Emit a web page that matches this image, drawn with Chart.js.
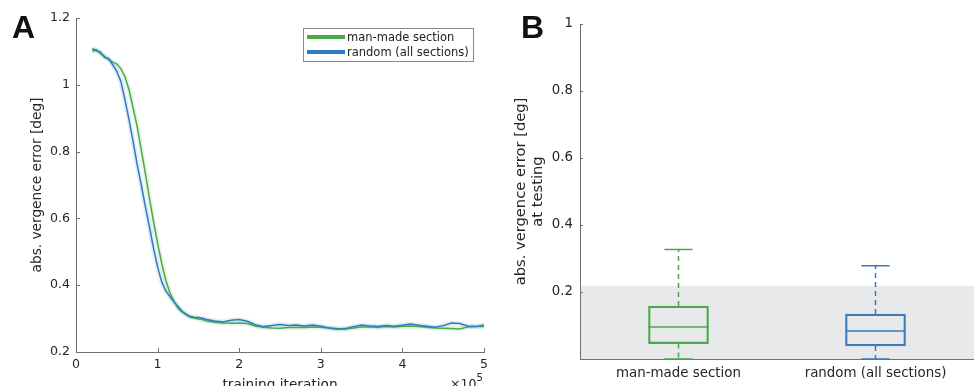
<!DOCTYPE html>
<html>
<head>
<meta charset="utf-8">
<script src="https://cdn.jsdelivr.net/npm/chart.js@4.4.1/dist/chart.umd.min.js"></script>
<style>
    html, body {
        margin: 0;
        padding: 0;
        width: 974px;
        height: 386px;
        overflow: hidden;
        background: #fff;
        font-family: "DejaVu Sans", sans-serif;
    }

    #wrap {
        position: relative;
        width: 974px;
        height: 386px;
        overflow: hidden;
    }

    #canvasA {
        position: absolute;
        left: 0;
        top: 0;
    }

    #canvasB {
        position: absolute;
        left: 490px;
        top: 0;
    }

    .panel-letter {
        position: absolute;
        font-family: "Liberation Sans", Arial, sans-serif;
        font-weight: bold;
        font-size: 32px;
        line-height: 1;
        color: #111;
    }

    .legend {
        position: absolute;
        left: 303px;
        top: 28px;
        width: 169px;
        height: 32px;
        border: 1px solid #8a8a8a;
        background: #fff;
        font-size: 11.5px;
        color: #222;
    }

    .legend-row {
        position: absolute;
        left: 3px;
        height: 15px;
        line-height: 15px;
        white-space: nowrap;
    }

    .legend-swatch {
        display: inline-block;
        width: 38px;
        height: 4px;
        vertical-align: middle;
        margin-right: 2px;
        position: relative;
        top: -1px;
    }

    .exponent {
        position: absolute;
        left: 450px;
        top: 374px;
        font-size: 12.5px;
        color: #262626;
        white-space: nowrap;
    }

    .exponent sup {
        font-size: 10px;
        position: relative;
        top: -2px;
    }
</style>
</head>
<body>
<div id="wrap">
    <canvas id="canvasA" width="500" height="400"></canvas>
    <canvas id="canvasB" width="484" height="400"></canvas>
    <div class="panel-letter" style="left: 12px; top: 11px;">A</div>
    <div class="panel-letter" style="left: 521px; top: 11px;">B</div>
    <div class="legend" id="legendA"></div>
    <div class="exponent">×10<sup>5</sup></div>
</div>
<script>
// panel A: training curves (x in units of 10^5 iterations)
const iterations = [
    0.20, 0.25, 0.30, 0.35, 0.40, 0.45, 0.50, 0.55, 0.60, 0.65,
    0.70, 0.75, 0.80, 0.85, 0.90, 0.95, 1.00, 1.05, 1.10, 1.15,
    1.20, 1.25, 1.30, 1.35, 1.40, 1.45, 1.50, 1.55, 1.60, 1.70,
    1.80, 1.90, 2.00, 2.10, 2.20, 2.30, 2.40, 2.50, 2.60, 2.70,
    2.80, 2.90, 3.00, 3.10, 3.20, 3.30, 3.40, 3.50, 3.60, 3.70,
    3.80, 3.90, 4.00, 4.10, 4.20, 4.30, 4.40, 4.50, 4.60, 4.70,
    4.80, 4.90, 5.00
];

const manMadeError = [
    1.100, 1.105, 1.093, 1.085, 1.075, 1.068, 1.062, 1.048, 1.024, 0.985,
    0.930, 0.875, 0.805, 0.735, 0.660, 0.590, 0.525, 0.466, 0.415, 0.378,
    0.352, 0.331, 0.320, 0.312, 0.305, 0.302, 0.299, 0.297, 0.293, 0.289,
    0.287, 0.286, 0.287, 0.285, 0.278, 0.274, 0.272, 0.271, 0.273, 0.274,
    0.273, 0.275, 0.274, 0.272, 0.270, 0.269, 0.272, 0.275, 0.275, 0.274,
    0.276, 0.275, 0.277, 0.278, 0.276, 0.274, 0.272, 0.271, 0.270, 0.269,
    0.275, 0.276, 0.276
];

const randomError = [
    1.108, 1.102, 1.098, 1.082, 1.078, 1.060, 1.040, 1.010, 0.955, 0.895,
    0.830, 0.760, 0.700, 0.635, 0.575, 0.510, 0.455, 0.410, 0.383, 0.366,
    0.350, 0.336, 0.322, 0.313, 0.306, 0.304, 0.303, 0.301, 0.297, 0.293,
    0.290, 0.295, 0.297, 0.292, 0.281, 0.276, 0.279, 0.282, 0.279, 0.281,
    0.278, 0.281, 0.277, 0.272, 0.268, 0.270, 0.276, 0.281, 0.278, 0.276,
    0.279, 0.277, 0.280, 0.284, 0.280, 0.277, 0.274, 0.279, 0.287, 0.285,
    0.278, 0.276, 0.281
];

const xTicksA = [0, 1, 2, 3, 4, 5];
const yTicksA = [0.2, 0.4, 0.6, 0.8, 1, 1.2];

// panel B: error at testing, box plot summary
const boxCategories = ["man-made section", "random (all sections)"];
const whiskerLow = [0.000, 0.000];
const quartile1 = [0.046, 0.039];
const medians = [0.095, 0.083];
const quartile3 = [0.158, 0.134];
const whiskerHigh = [0.327, 0.278];
const yTicksB = [0.2, 0.4, 0.6, 0.8, 1];
const bandTop = 0.218;

const GREEN = "#4aab45";
const BLUE = "#2c7bc4";
const BOX_COLORS = ["#4aa84a", "#3a7ab6"];
const AXIS_COLOR = "#6f6f6f";
const TEXT_COLOR = "#262626";

function toPoints(values) {

    return iterations.map((x, i) => ({ x, y: values[i] }));
}

function fixedTicks(values) {

    return (scale) => {
        scale.ticks = values.map((value) => ({ value }));
    };
}

const inwardTicks = {
    id: "inwardTicks",
    afterDatasetsDraw(chart, args, opts) {

        const { ctx, chartArea } = chart;

        ctx.save();
        ctx.strokeStyle = AXIS_COLOR;
        ctx.lineWidth = 1;

        (opts.axes || []).forEach((id) => {

            const scale = chart.scales[id];

            scale.ticks.forEach((tick) => {

                const p = Math.round(scale.getPixelForValue(tick.value)) + 0.5;

                ctx.beginPath();
                if (scale.isHorizontal()) {
                    ctx.moveTo(p, chartArea.bottom);
                    ctx.lineTo(p, chartArea.bottom - opts.length);
                } else {
                    ctx.moveTo(chartArea.left, p);
                    ctx.lineTo(chartArea.left + opts.length, p);
                }
                ctx.stroke();
            });
        });

        ctx.restore();
    }
};

const grayBand = {
    id: "grayBand",
    beforeDraw(chart) {

        const { ctx, chartArea, scales } = chart;
        const top = scales.y.getPixelForValue(bandTop);
        const bottom = scales.y.getPixelForValue(0);

        ctx.save();
        ctx.fillStyle = "#e8e9ea";
        ctx.fillRect(chartArea.left, top, chartArea.right - chartArea.left, bottom - top);
        ctx.restore();
    }
};

const boxWhiskers = {
    id: "boxWhiskers",
    afterDatasetsDraw(chart) {

        const { ctx, scales } = chart;
        const bars = chart.getDatasetMeta(0).data;

        ctx.save();
        ctx.lineWidth = 1.5;

        boxCategories.forEach((category, i) => {

            const cx = bars[i].x;
            const half = bars[i].width / 2;
            const capHalf = half * 0.47;
            const yMed = Math.round(scales.y.getPixelForValue(medians[i]));
            const yQ1 = scales.y.getPixelForValue(quartile1[i]);
            const yQ3 = scales.y.getPixelForValue(quartile3[i]);
            const yLow = scales.y.getPixelForValue(whiskerLow[i]);
            const yHigh = scales.y.getPixelForValue(whiskerHigh[i]);

            ctx.strokeStyle = BOX_COLORS[i];

            ctx.setLineDash([]);
            ctx.beginPath();
            ctx.moveTo(cx - half, yMed);
            ctx.lineTo(cx + half, yMed);
            ctx.moveTo(cx - capHalf, yHigh);
            ctx.lineTo(cx + capHalf, yHigh);
            ctx.moveTo(cx - capHalf, yLow);
            ctx.lineTo(cx + capHalf, yLow);
            ctx.stroke();

            ctx.setLineDash([5, 4]);
            ctx.beginPath();
            ctx.moveTo(cx, yQ3);
            ctx.lineTo(cx, yHigh);
            ctx.moveTo(cx, yQ1);
            ctx.lineTo(cx, yLow);
            ctx.stroke();
        });

        ctx.restore();
    }
};

function buildLegend() {

    const legend = document.getElementById("legendA");
    const entries = [
        { label: "man-made section", color: GREEN },
        { label: "random (all sections)", color: BLUE }
    ];

    entries.forEach((entry, i) => {

        const row = document.createElement("div");
        row.className = "legend-row";
        row.style.top = (1 + i * 15) + "px";

        const swatch = document.createElement("span");
        swatch.className = "legend-swatch";
        swatch.style.background = entry.color;

        row.appendChild(swatch);
        row.appendChild(document.createTextNode(entry.label));
        legend.appendChild(row);
    });
}

function buildTrainingChart() {

    const lineDataset = (label, values, color, width) => ({
        label,
        data: toPoints(values),
        borderColor: color,
        borderWidth: width,
        pointRadius: 0,
        tension: 0,
        fill: false
    });

    return new Chart(document.getElementById("canvasA").getContext("2d"), {
        type: "line",
        data: {
            datasets: [
                lineDataset("random (all sections)", randomError, BLUE, 1.5),
                lineDataset("man-made section", manMadeError, GREEN, 1.5),
                lineDataset("random halo", randomError, "rgba(44, 123, 196, 0.13)", 5),
                lineDataset("man-made halo", manMadeError, "rgba(74, 171, 69, 0.13)", 5)
            ]
        },
        options: {
            responsive: false,
            animation: false,
            layout: {
                padding: { top: 18, right: 16, left: 0, bottom: 0 }
            },
            plugins: {
                legend: { display: false },
                tooltip: { enabled: false },
                inwardTicks: { axes: ["x", "y"], length: 4 }
            },
            scales: {
                x: {
                    type: "linear",
                    min: 0,
                    max: 5,
                    afterBuildTicks: fixedTicks(xTicksA),
                    afterFit: (scale) => { scale.height = 48; },
                    grid: { display: false, drawTicks: false },
                    border: { display: true, color: AXIS_COLOR, width: 1 },
                    ticks: {
                        padding: 5,
                        color: TEXT_COLOR,
                        font: { family: "DejaVu Sans", size: 12.6 },
                        maxRotation: 0,
                        callback: (value) => String(value)
                    },
                    title: {
                        display: true,
                        text: "training iteration",
                        color: TEXT_COLOR,
                        font: { family: "DejaVu Sans", size: 13.7 },
                        padding: { top: 0, bottom: 6 }
                    }
                },
                y: {
                    min: 0.2,
                    max: 1.2,
                    afterBuildTicks: fixedTicks(yTicksA),
                    afterFit: (scale) => { scale.width = 76; },
                    grid: { display: false, drawTicks: false },
                    border: { display: true, color: AXIS_COLOR, width: 1 },
                    ticks: {
                        padding: 6,
                        color: TEXT_COLOR,
                        font: { family: "DejaVu Sans", size: 12.6 },
                        callback: (value) => String(Math.round(value * 10) / 10)
                    },
                    title: {
                        display: true,
                        text: "abs. vergence error [deg]",
                        color: TEXT_COLOR,
                        font: { family: "DejaVu Sans", size: 13.7 },
                        padding: { top: 29, bottom: 0 }
                    }
                }
            }
        },
        plugins: [inwardTicks]
    });
}

function buildTestingChart() {

    return new Chart(document.getElementById("canvasB").getContext("2d"), {
        type: "bar",
        data: {
            labels: boxCategories,
            datasets: [
                {
                    label: "interquartile range",
                    data: boxCategories.map((category, i) => [quartile1[i], quartile3[i]]),
                    backgroundColor: "rgba(0, 0, 0, 0)",
                    borderColor: BOX_COLORS,
                    borderWidth: 1.5,
                    borderSkipped: false,
                    barThickness: 60
                }
            ]
        },
        options: {
            responsive: false,
            animation: false,
            layout: {
                padding: { top: 24, right: 0, left: 0, bottom: 0 }
            },
            plugins: {
                legend: { display: false },
                tooltip: { enabled: false },
                inwardTicks: { axes: ["y"], length: 3 }
            },
            scales: {
                x: {
                    afterFit: (scale) => { scale.height = 41; },
                    grid: { display: false, drawTicks: false },
                    border: { display: true, color: AXIS_COLOR, width: 1 },
                    ticks: {
                        padding: 6,
                        color: TEXT_COLOR,
                        font: { family: "DejaVu Sans", size: 13.4 },
                        maxRotation: 0
                    }
                },
                y: {
                    min: 0,
                    max: 1,
                    afterBuildTicks: fixedTicks(yTicksB),
                    afterFit: (scale) => { scale.width = 90; },
                    grid: { display: false, drawTicks: false },
                    border: { display: true, color: AXIS_COLOR, width: 1 },
                    ticks: {
                        padding: 7,
                        color: TEXT_COLOR,
                        font: { family: "DejaVu Sans", size: 13.3 },
                        callback: (value) => String(Math.round(value * 10) / 10)
                    },
                    title: {
                        display: true,
                        text: ["abs. vergence error [deg]", "at testing"],
                        color: TEXT_COLOR,
                        font: { family: "DejaVu Sans", size: 14.7, lineHeight: 1.12 },
                        padding: { top: 23, bottom: 0 }
                    }
                }
            }
        },
        plugins: [grayBand, boxWhiskers, inwardTicks]
    });
}

buildLegend();
buildTrainingChart();
buildTestingChart();
</script>
</body>
</html>
